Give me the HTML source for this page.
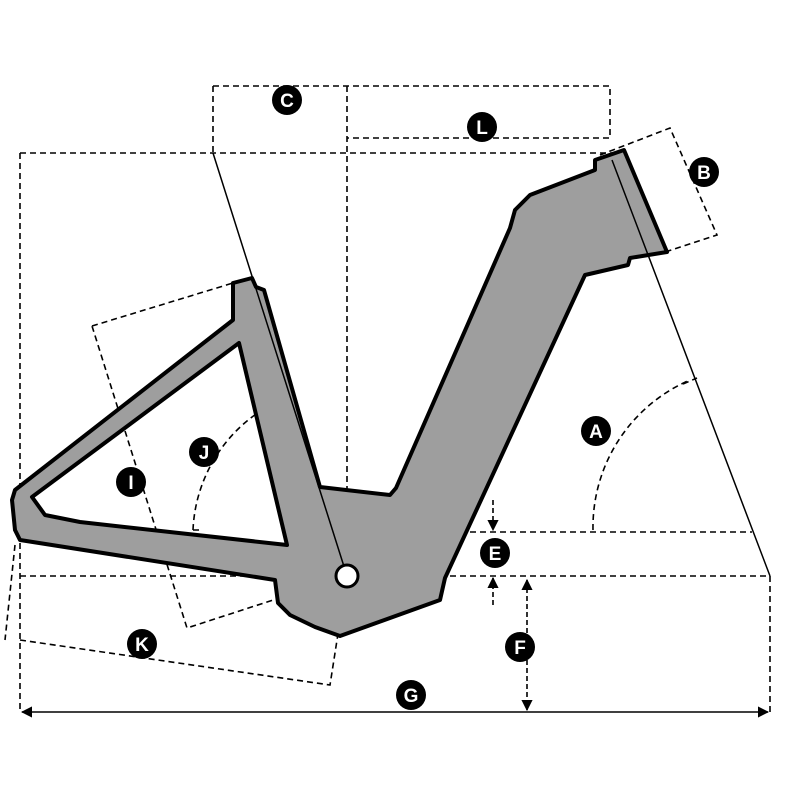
<!DOCTYPE html><html><head><style>body{margin:0;background:#fff}svg{display:block}text{font-family:"Liberation Sans",sans-serif;font-weight:bold;font-size:19px;fill:#fff;text-anchor:middle}</style></head><body>
<svg width="800" height="800" viewBox="0 0 800 800">
<defs><marker id="ah" viewBox="0 0 10 10" refX="9" refY="5" markerWidth="7" markerHeight="7" orient="auto-start-reverse"><path d="M0,0L10,5L0,10Z" fill="#000"/></marker></defs>
<g fill="none" stroke="#000" stroke-width="1.6" stroke-dasharray="6,4">
<path d="M20,153H612M20,153V712M213,86H610V138H347M213,86V153M347,86V576M20,576H770V712M450,532H752"/>
<path d="M600,155L670,128L717,235L665,252"/>
<path d="M92,326L233,283M92,326L187,628L347,576M20,640L330,685L347,576M15,545L5,640"/>
<path d="M593,530A160,160 0 0 1 690,380M683,384L697,378"/>
<path d="M193,530A150,150 0 0 1 290,396M193,530H200"/>
</g>
<path d="M233,283L252,278L256,287L264,290L320,487L390,495L396,488L510,228L515,210L530,195L595,170L595,160L624,150L667,252L630,258L628,265L585,275L445,578L440,600L340,636L315,627L290,615L278,603L275,580L20,540L15,530L12,500L15,490L233,320Z M239,343L287,545L80,522L45,515L32,497Z" fill="#9e9e9e" fill-rule="evenodd" stroke="#000" stroke-width="4" stroke-linejoin="round"/>
<g stroke="#000" stroke-width="1.5" fill="none">
<path d="M213,153L347,576M612,160L770,576"/>
</g>
<circle cx="347" cy="576" r="11" fill="#fff" stroke="#000" stroke-width="3"/>
<g stroke="#000" stroke-width="1.6" fill="none">
<path d="M493,500V530" marker-end="url(#ah)" stroke-dasharray="5,3"/>
<path d="M493,605V578" marker-end="url(#ah)" stroke-dasharray="5,3"/>
<path d="M527,580V710" marker-start="url(#ah)" marker-end="url(#ah)" stroke-dasharray="5,3"/>
<path d="M22,712H768" marker-start="url(#ah)" marker-end="url(#ah)"/>
</g>
<g fill="#000">
<circle cx="287" cy="100" r="15"/><circle cx="482" cy="127" r="15"/><circle cx="704" cy="172" r="15"/><circle cx="596" cy="431" r="15"/><circle cx="204" cy="452" r="15"/><circle cx="131" cy="482" r="15"/><circle cx="495" cy="553" r="15"/><circle cx="520" cy="647" r="15"/><circle cx="142" cy="644" r="15"/><circle cx="411" cy="695" r="15"/>
</g>
<text x="287" y="107">C</text><text x="482" y="134">L</text><text x="704" y="179">B</text><text x="596" y="438">A</text><text x="204" y="459">J</text><text x="131" y="489">I</text><text x="495" y="560">E</text><text x="520" y="654">F</text><text x="142" y="651">K</text><text x="411" y="702">G</text>
</svg></body></html>
